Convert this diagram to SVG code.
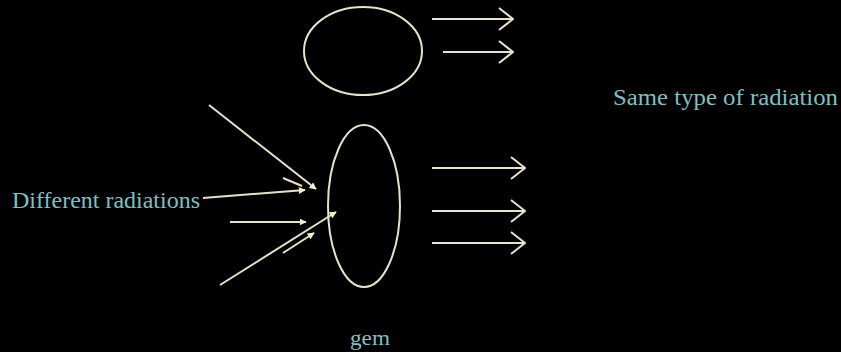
<svg xmlns="http://www.w3.org/2000/svg" width="841" height="352" viewBox="0 0 841 352">
<defs>
<style>
.ln{stroke:#e6e2c4;stroke-width:2;fill:none;}
.tx{fill:#7cc0c6;font-family:"Liberation Serif",serif;font-size:24px;}
</style>
<marker id="tri" viewBox="0 0 10 10" refX="9" refY="5" markerWidth="7" markerHeight="7" orient="auto" markerUnits="userSpaceOnUse">
<path d="M0,0 L10,5 L0,10 z" fill="#f2efcc"/>
</marker>
<marker id="open" viewBox="0 0 16 24" refX="15" refY="12" markerWidth="16" markerHeight="24" orient="auto" markerUnits="userSpaceOnUse">
<path d="M1,1 L15,12 L1,23" fill="none" stroke="#e6e2c4" stroke-width="2"/>
</marker>
</defs>
<rect width="841" height="352" fill="#000"/>
<g id="top-ellipse"><ellipse class="ln" cx="363" cy="51" rx="59" ry="44"/></g>
<g id="gem"><ellipse class="ln" cx="364" cy="206" rx="36" ry="81"/></g>
<g id="label-different"><text class="tx" x="12" y="208" textLength="188" lengthAdjust="spacingAndGlyphs">Different radiations</text></g>
<g id="label-same"><text class="tx" x="613" y="105" textLength="225" lengthAdjust="spacingAndGlyphs">Same type of radiation</text></g>
<g id="label-gem"><text class="tx" x="350" y="345" style="font-size:21px" textLength="40" lengthAdjust="spacingAndGlyphs">gem</text></g>
<g id="connectors">
<line class="ln" x1="432" y1="19" x2="513" y2="19" marker-end="url(#open)"/>
<line class="ln" x1="443" y1="52" x2="513" y2="52" marker-end="url(#open)"/>
<line class="ln" x1="432" y1="168" x2="525" y2="168" marker-end="url(#open)"/>
<line class="ln" x1="432" y1="211" x2="525" y2="211" marker-end="url(#open)"/>
<line class="ln" x1="432" y1="243" x2="525" y2="243" marker-end="url(#open)"/>
<line class="ln" x1="209" y1="105" x2="316" y2="189" marker-end="url(#tri)"/>
<line class="ln" x1="283" y1="178" x2="302" y2="186"/>
<line class="ln" x1="203" y1="198" x2="305" y2="190" marker-end="url(#tri)"/>
<line class="ln" x1="230" y1="222" x2="306" y2="222" marker-end="url(#tri)"/>
<line class="ln" x1="220" y1="285" x2="336" y2="212" marker-end="url(#tri)"/>
<line class="ln" x1="283" y1="253" x2="314" y2="233" marker-end="url(#tri)"/>
</g>
</svg>
